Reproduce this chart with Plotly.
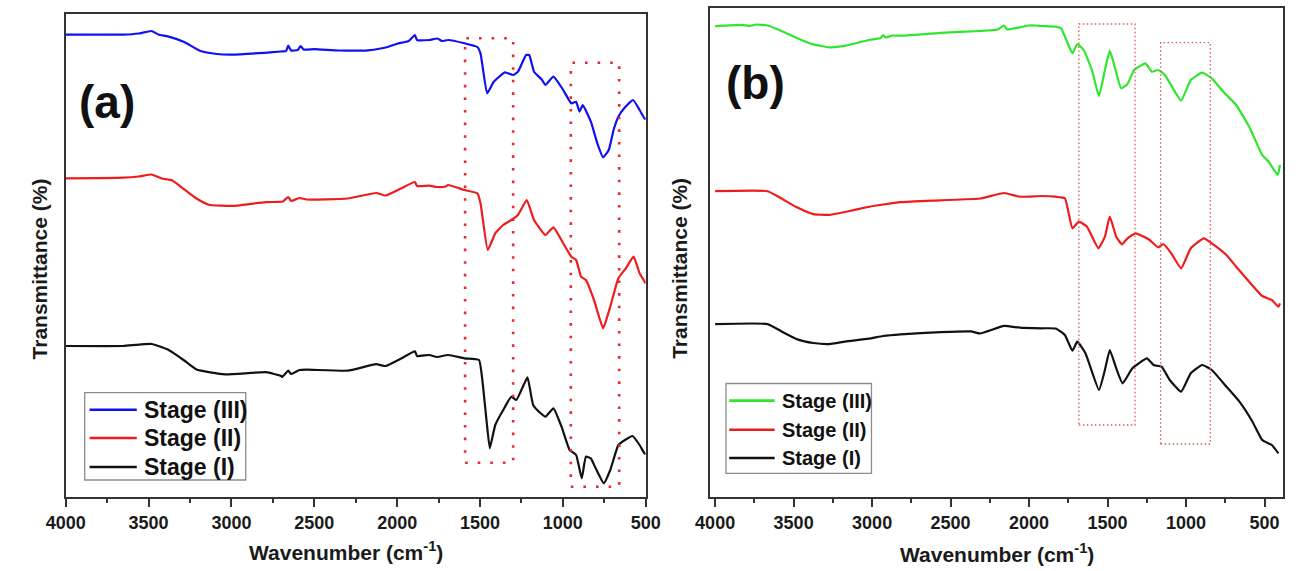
import plotly.graph_objects as go

# ---------------- data (arbitrary transmittance units, offset stacked) ----------------
# Panel (a)
wn_a3 = [4000, 3655, 3560, 3483, 3440, 3384, 3285, 3187, 3088, 3000, 2800, 2700, 2670, 2657, 2640, 2600, 2582, 2565,
         2500, 2350, 2176, 2100, 2053, 2000, 1930, 1893, 1880, 1806, 1757, 1730, 1692, 1594, 1516, 1497, 1457, 1418,
         1350, 1301, 1271, 1222, 1203, 1174, 1125, 1105, 1057, 998, 949, 920, 900, 880, 831, 792, 757, 723, 694, 665,
         625, 576, 537, 508, 500]
t_a3 = [462.4, 462.4, 463.5, 466, 462.5, 460.6, 455, 446, 443, 442.4, 444.2, 445.5, 446, 451.5, 446.5, 447, 451, 447.5,
        447.8, 446.5, 446.7, 448.5, 450.3, 453.3, 456, 462, 457, 457, 458.5, 456, 457, 453.7, 450, 443.7, 403.7, 415,
        424.7, 422, 425.3, 442, 442, 425.3, 417, 412, 420.3, 407, 393.7, 395.3, 385.3, 392, 375.3, 353.7, 339.7, 347,
        367, 380.3, 389.7, 397, 387, 378.7, 377.7]

wn_a2 = [4000, 3655, 3560, 3482, 3420, 3359, 3285, 3211, 3137, 2989, 2792, 2690, 2657, 2640, 2590, 2546, 2299, 2127,
         2070, 1979, 1893, 1880, 1806, 1760, 1708, 1692, 1594, 1516, 1497, 1453, 1408, 1360, 1311, 1271, 1218, 1174,
         1105, 1057, 998, 949, 920, 890, 861, 812, 757, 714, 665, 620, 573, 537, 500]
t_a2 = [318.6, 319.3, 320.5, 322.5, 318.5, 316.7, 307.6, 298.5, 292.3, 291.2, 294.9, 295.5, 300, 296, 299, 297.5,
        298.5, 304, 301.5, 308.4, 315, 311, 311.3, 310, 310.5, 312, 307, 303.7, 293.7, 247, 263.7, 272, 277, 282, 297,
        277, 262, 269.7, 253.7, 240.3, 237, 220.3, 217, 197, 168.7, 190.3, 218.7, 228.7, 240.3, 223.7, 213.7]

wn_a1 = [4000, 3655, 3482, 3384, 3285, 3211, 3039, 2792, 2700, 2694, 2657, 2640, 2590, 2546, 2299, 2127, 2070, 1979,
         1893, 1880, 1806, 1760, 1692, 1594, 1506, 1486, 1461, 1441, 1408, 1360, 1311, 1281, 1232, 1213, 1179, 1134,
         1105, 1057, 1008, 959, 920, 886, 861, 831, 802, 753, 714, 665, 625, 580, 537, 508, 500]
t_a1 = [151, 151, 153, 147.4, 136.5, 127.4, 122.6, 124.8, 121, 120, 126.3, 123, 127, 127.4, 126.3, 132.8, 131, 138.3,
        145.6, 141, 142, 140, 142, 138.7, 137, 117, 77, 48.7, 72, 87, 100.3, 97, 113.7, 119.7, 92, 83.7, 80.3, 88.7,
        70.3, 47, 42, 18.7, 40.3, 38.7, 28.7, 13.7, 27, 52, 57, 61, 52, 43.7, 43]

# Panel (b)
wn_b3 = [4000, 3830, 3780, 3740, 3666, 3577, 3476, 3375, 3274, 3173, 3021, 2945, 2930, 2915, 2870, 2818, 2565, 2312,
         2200, 2160, 2140, 2059, 2000, 1958, 1920, 1831, 1796, 1724, 1693, 1652, 1600, 1555, 1517, 1486, 1449, 1414,
         1373, 1331, 1259, 1218, 1177, 1135, 1084, 1032, 970, 898, 836, 763, 681, 598, 515, 474, 416, 402]
t_b3 = [470.8, 472.2, 471, 472.5, 471.5, 466, 458.8, 452.6, 449.7, 451.1, 457, 459, 462, 459.5, 461.5, 461.3, 464.2,
        466, 467.5, 471.5, 467.5, 469.7, 471.5, 471.5, 471, 470.4, 468.7, 443.7, 453, 447, 427, 401, 427, 446.3, 427,
        408.7, 413, 427, 433.7, 425.3, 427, 422, 408.7, 396.3, 417, 424.3, 418.7, 405.3, 392, 370.3, 342, 335.3, 322,
        332]

wn_b2 = [4000, 3666, 3577, 3476, 3375, 3274, 3173, 3021, 2930, 2818, 2565, 2312, 2160, 2059, 1920, 1831, 1772, 1724,
         1683, 1631, 1559, 1517, 1486, 1445, 1408, 1373, 1321, 1238, 1177, 1146, 1094, 1032, 970, 887, 836, 743, 681,
         598, 515, 454, 412, 402]
t_b2 = [305.8, 305.8, 298.5, 289.4, 282.9, 282.1, 285, 290.2, 292.5, 294.9, 296.7, 298.5, 304, 300.3, 301, 300.3,
        298.7, 268.7, 275.3, 270.3, 248.7, 260.3, 280.3, 260.3, 252.7, 258.7, 263.7, 257.7, 249.7, 253, 243.7, 228.7,
        248.7, 258.7, 253.7, 242, 230.3, 215.3, 201, 197, 190.3, 193.7]

wn_b1 = [4000, 3666, 3577, 3476, 3375, 3274, 3173, 3021, 2930, 2818, 2565, 2370, 2312, 2160, 2059, 1920, 1831, 1772,
         1724, 1693, 1641, 1555, 1517, 1486, 1445, 1404, 1342, 1249, 1207, 1156, 1104, 1032, 970, 898, 836, 743, 660,
         577, 515, 454, 412]
t_b1 = [172.9, 172.9, 165.6, 157.6, 154, 152.9, 155.4, 158.3, 161, 162.7, 164.9, 165.6, 163.5, 171.1, 169.3, 168.7,
        168.5, 162, 146.3, 155.3, 143.7, 107, 127, 147, 128.7, 113.7, 128.7, 138.7, 132, 130.3, 117, 105.3, 123.7, 132,
        127, 110.3, 95.3, 75.3, 57, 52, 43.7]

series_names = ["Stage (III)", "Stage (II)", "Stage (I)"]
colors_a = ["#1010f5", "#ee1c1c", "#111111"]
colors_b = ["#2ee62e", "#ee1c1c", "#111111"]

# highlighted regions (wavenumber ranges and vertical extent)
boxes_a = [(1590, 1300, 34.3, 458.7), (952, 660, 10.3, 434.3)]
boxes_b = [(1683, 1325, 72, 473), (1162, 846, 53, 454.3)]

tick_vals = [4000, 3500, 3000, 2500, 2000, 1500, 1000, 500]
minor_vals = [3750, 3250, 2750, 2250, 1750, 1250, 750]

# ---------------- figure ----------------
W, H = 1302, 571
SANS = "Liberation Sans, Arial, sans-serif"


def px(x):
    return x / W


def py(y):
    return 1 - y / H


fig = go.Figure()
for wn, t, name, c in zip([wn_a3, wn_a2, wn_a1], [t_a3, t_a2, t_a1], series_names, colors_a):
    fig.add_trace(go.Scatter(x=wn, y=t, mode="lines", name=name,
                             line=dict(color=c, width=2.2, shape="spline", smoothing=0.4),
                             xaxis="x", yaxis="y", showlegend=False))
for wn, t, name, c in zip([wn_b3, wn_b2, wn_b1], [t_b3, t_b2, t_b1], series_names, colors_b):
    fig.add_trace(go.Scatter(x=wn, y=t, mode="lines", name=name,
                             line=dict(color=c, width=2.2, shape="spline", smoothing=0.4),
                             xaxis="x2", yaxis="y2", showlegend=False))

axis_common = dict(showline=True, linewidth=2, linecolor="#333333", mirror=True, showgrid=False, zeroline=False)
xcommon = dict(axis_common, tickmode="array", tickvals=tick_vals, ticks="outside", ticklen=8, tickwidth=2,
               tickcolor="#333333",
               tickfont=dict(family=SANS, size=18, color="#1a1a1a", weight="bold"),
               minor=dict(ticks="outside", ticklen=4, tickwidth=2, tickcolor="#333333", tickmode="array",
                          tickvals=minor_vals))
ycommon = dict(axis_common, showticklabels=False, ticks="")

fig.update_layout(
    width=W, height=H, margin=dict(l=0, r=0, t=0, b=0),
    paper_bgcolor="white", plot_bgcolor="white", showlegend=False,
    xaxis=dict(xcommon, domain=[px(47), px(643)], range=[4000, 500], anchor="y"),
    yaxis=dict(ycommon, domain=[py(497), py(14)], range=[0, 483], anchor="x"),
    xaxis2=dict(xcommon, domain=[px(709), px(1297.5)], range=[4033, 385], anchor="y2"),
    yaxis2=dict(ycommon, domain=[py(497), py(8)], range=[0, 489], anchor="x2"),
)

# dotted highlight boxes
for x0, x1, y0, y1 in boxes_a:
    fig.add_shape(type="rect", xref="x", yref="y", x0=x0, x1=x1, y0=y0, y1=y1,
                  line=dict(color="#e8282d", width=2.6, dash="2.6px,10px"))
for x0, x1, y0, y1 in boxes_b:
    fig.add_shape(type="rect", xref="x2", yref="y2", x0=x0, x1=x1, y0=y0, y1=y1,
                  line=dict(color="#e0575a", width=1.3, dash="1.5px,2.5px"))

# panel labels
fig.add_annotation(x=px(89), y=py(102), xref="paper", yref="paper", text="(a)", showarrow=False,
                   font=dict(family=SANS, size=46, color="#111", weight="bold"), xanchor="center", yanchor="middle")
fig.add_annotation(x=px(756), y=py(83), xref="paper", yref="paper", text="(b)", showarrow=False,
                   font=dict(family=SANS, size=46, color="#111", weight="bold"), xanchor="center", yanchor="middle")

# axis titles
title_font = dict(family=SANS, size=21, color="#1a1a1a", weight="bold")
for xc, yc in [(335, 551), (1004, 553)]:
    fig.add_annotation(x=px(xc), y=py(yc), xref="paper", yref="paper", text="Wavenumber (cm<sup>-1</sup>)",
                       showarrow=False, font=title_font, xanchor="center", yanchor="middle")
for xc, yc in [(20, 269), (677, 268)]:
    fig.add_annotation(x=px(xc), y=py(yc), xref="paper", yref="paper", text="Transmittance (%)", textangle=-90,
                       showarrow=False, font=title_font, xanchor="center", yanchor="middle")

# legends (drawn manually)
legend_specs = [
    dict(box=(66.5, 392.6, 232, 480), line_x=(71.5, 120), ys=(409.7, 438, 467), text_x=125.4, colors=colors_a,
         size=23),
    dict(box=(725.5, 383.5, 875, 473.4), line_x=(728.8, 775.5), ys=(400.6, 429.7, 458), text_x=780.8,
         colors=colors_b, size=20),
]
for spec in legend_specs:
    bx0, by0, bx1, by1 = spec["box"]
    fig.add_shape(type="rect", xref="paper", yref="paper", x0=px(bx0), x1=px(bx1), y0=py(by1), y1=py(by0),
                  line=dict(color="#8c8c8c", width=1.3), fillcolor="white", layer="above")
    for yy, name, c in zip(spec["ys"], series_names, spec["colors"]):
        fig.add_shape(type="line", xref="paper", yref="paper", x0=px(spec["line_x"][0]), x1=px(spec["line_x"][1]),
                      y0=py(yy), y1=py(yy), line=dict(color=c, width=2.6))
        fig.add_annotation(x=px(spec["text_x"]), y=py(yy), xref="paper", yref="paper", text=name, showarrow=False,
                           font=dict(family=SANS, size=spec["size"], color="#111", weight="bold"),
                           xanchor="left", yanchor="middle")

fig.write_html("out.html", config={"displayModeBar": False},
               post_script="document.body.style.margin='0px';document.body.style.overflow='hidden';")
